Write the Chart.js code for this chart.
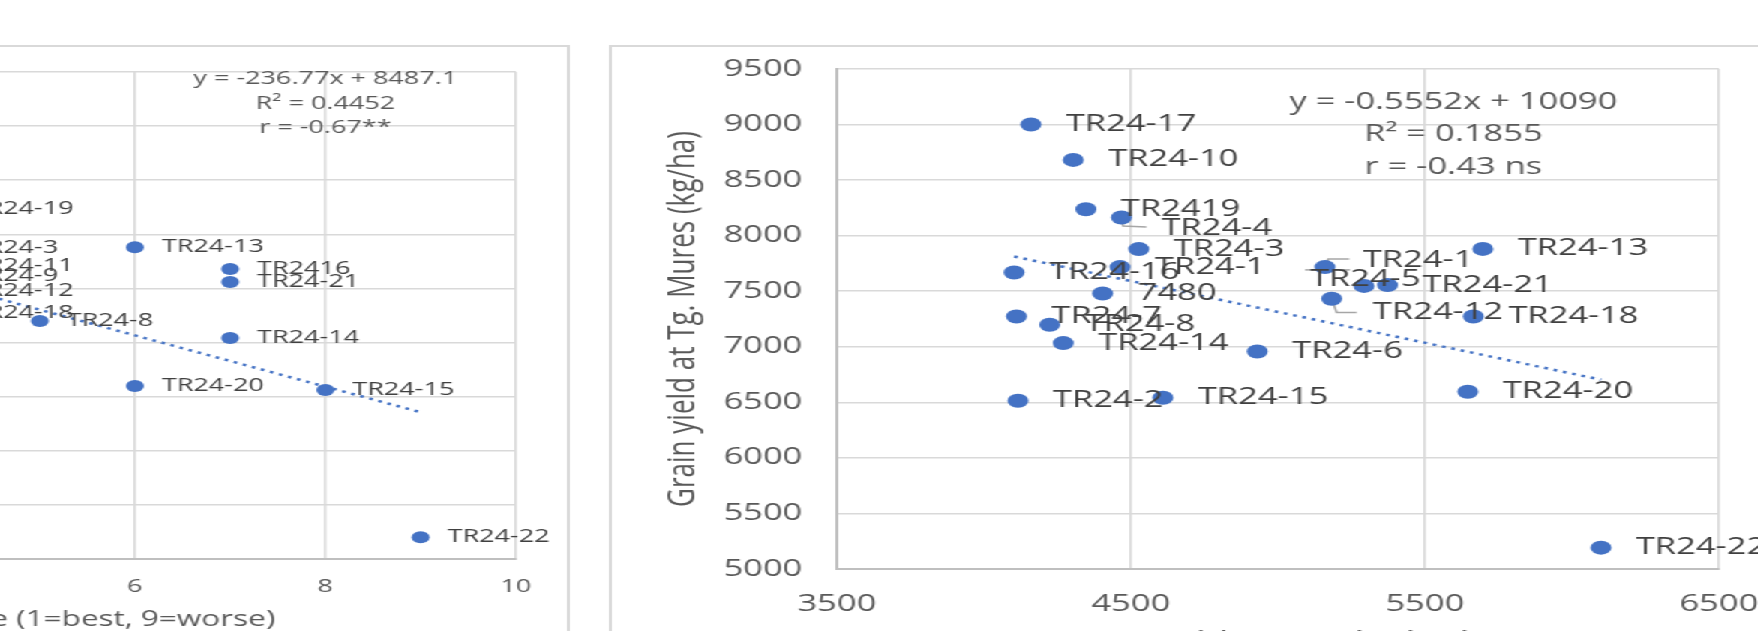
<!DOCTYPE html>
<html>
<head>
<meta charset="utf-8">
<script src="https://cdn.jsdelivr.net/npm/chart.js@4.4.1/dist/chart.umd.min.js"></script>
<style>
  html, body { margin: 0; padding: 0; background: #fff; overflow: hidden; }
  body { width: 1758px; height: 631px; position: relative; }
  /* both panels are drawn narrow and widened as a whole */
  #stage { position: absolute; left: 0; top: 0; width: 1172px; height: 631px; transform: scaleX(1.5); transform-origin: 0 0; }
  .box { position: absolute; border: 2px solid #d9d9d9; background: #fff; }
  #leftBox { left: -400px; top: 45px; width: 776px; height: 640px; }
  #rightBox { left: 405.7px; top: 45px; width: 800px; height: 640px; }
  canvas { display: block; }
</style>
</head>
<body>
<div id="stage">
  <div class="box" id="leftBox"><canvas id="scoreChart" width="776" height="640"></canvas></div>
  <div class="box" id="rightBox"><canvas id="yieldChart" width="800" height="640"></canvas></div>
</div>
<script>
// left panel: score vs. grain yield at Tg. Mures
const scoreNames = ["TR24-19", "TR24-3", "TR24-11", "TR24-9", "TR24-12", "TR24-18", "TR24-8",
  "TR24-13", "TR2416", "TR24-21", "TR24-14", "TR24-20", "TR24-15", "TR24-22"];
const scoreValues = [4, 4, 4, 4, 4, 4, 5, 6, 7, 7, 7, 6, 8, 9];
const scoreYield = [8238, 7879, 7707, 7615, 7476, 7273, 7199, 7881, 7679, 7559, 7042, 6598, 6561, 5202];
const scoreSlope = -236.77;
const scoreIntercept = 8487.1;
const scoreR2 = "0.4452";
const scoreR = "-0.67**";

// right panel: yield at the second site vs. grain yield at Tg. Mures
const yieldNames = ["TR24-17", "TR24-10", "TR2419", "TR24-4", "TR24-3", "TR24-1", "TR24-16", "7480",
  "TR24-7", "TR24-8", "TR24-14", "TR24-2", "TR24-15", "TR24-6", "TR24-1", "TR24-5", "TR24-21",
  "TR24-12", "TR24-18", "TR24-13", "TR24-20", "TR24-22"];
const yieldOther = [4160, 4304, 4347, 4468, 4527, 4463, 4103, 4404, 4111, 4224, 4270, 4116, 4609, 4930,
  5160, 5293, 5373, 5183, 5665, 5697, 5646, 6099];
const yieldMures = [9000, 8682, 8238, 8163, 7879, 7717, 7668, 7480, 7272, 7198, 7033, 6514, 6541, 6958,
  7717, 7548, 7555, 7432, 7272, 7881, 6595, 5192];
const yieldSlope = -0.5552;
const yieldIntercept = 10090;
const yieldR2 = "0.1855";
const yieldR = "-0.43 ns";

// axis ranges
const scoreAxis = [0, 10, 2];
const otherAxis = [3500, 6500, 1000];
const muresAxis = [5000, 9500, 500];

const BLUE = "#4472c4";
const FONT = "'Open Sans', 'Liberation Sans', sans-serif";

// labels that were dragged off their marker, with leader lines
const yieldNudges = {
  3: { dx: 26.7, dy: 11, leader: [[0, 0], [1.1, 8.4], [16.7, 9.4]] },
  14: { dx: 25.3, dy: -7, leader: [[0, 0], [2.2, -8], [16.2, -8]] },
  15: { dx: -36, dy: -6, leader: [[-39.3, -16], [-9.3, -16]] },
  17: { dx: 27.5, dy: 14, leader: [[0, 0], [3.3, 13.7], [16.7, 13.7]] }
};

const pointLabels = {
  id: "pointLabels",
  beforeDatasetsDraw(chart, args, opts) {
    const meta = chart.getDatasetMeta(0);
    const ctx = chart.ctx;
    ctx.save();
    ctx.strokeStyle = "#a6a6a6";
    ctx.lineWidth = 1.5;
    Object.entries(opts.nudges || {}).forEach(([i, n]) => {
      if (!n.leader) return;
      const p = meta.data[i];
      ctx.beginPath();
      n.leader.forEach(([dx, dy], k) => {
        if (k) ctx.lineTo(p.x + dx, p.y + dy);
        else ctx.moveTo(p.x + dx, p.y + dy);
      });
      ctx.stroke();
    });
    ctx.restore();
  },
  afterDatasetsDraw(chart, args, opts) {
    const meta = chart.getDatasetMeta(0);
    const names = chart.data.datasets[0].names;
    const ctx = chart.ctx;
    ctx.save();
    ctx.font = opts.size + "px " + FONT;
    ctx.fillStyle = "#404040";
    ctx.textAlign = "left";
    ctx.textBaseline = "middle";
    names.forEach((t, i) => {
      const p = meta.data[i];
      const n = (opts.nudges || {})[i] || {};
      ctx.fillText(t, p.x + (n.dx ?? opts.dx), p.y + (n.dy ?? 0));
    });
    // regression equation block
    ctx.fillStyle = "#595959";
    ctx.textAlign = "center";
    opts.fitText.forEach((line, k) => ctx.fillText(line, opts.fitX, opts.fitY + k * opts.fitGap));
    ctx.restore();
  }
};

function trend(xs, slope, intercept) {
  const x0 = Math.min(...xs), x1 = Math.max(...xs);
  return [{ x: x0, y: slope * x0 + intercept }, { x: x1, y: slope * x1 + intercept }];
}

const plain = (v) => String(v);

function makeChart(id, cfg) {
  const grid = { color: "#d9d9d9", lineWidth: 1.6, drawTicks: false };
  const border = { color: "#bfbfbf", width: 2 };
  return new Chart(document.getElementById(id), {
    type: "scatter",
    data: {
      datasets: [
        {
          names: cfg.names,
          data: cfg.xs.map((x, i) => ({ x: x, y: cfg.ys[i] })),
          backgroundColor: BLUE,
          borderColor: BLUE,
          borderWidth: 0,
          pointRadius: cfg.radius,
          pointHoverRadius: cfg.radius
        },
        {
          data: trend(cfg.xs, cfg.slope, cfg.intercept),
          showLine: true,
          pointRadius: 0,
          borderColor: BLUE,
          borderWidth: 2.5,
          borderDash: [2.5, 4]
        }
      ]
    },
    options: {
      responsive: false,
      animation: false,
      events: [],
      layout: { padding: cfg.padding },
      plugins: {
        legend: { display: false },
        tooltip: { enabled: false },
        pointLabels: {
          size: cfg.labelSize,
          dx: cfg.labelDx,
          nudges: cfg.nudges,
          fitText: [
            "y = " + cfg.slope + "x + " + cfg.intercept,
            "R\u00b2 = " + cfg.r2,
            "r = " + cfg.r
          ],
          fitX: cfg.fitX,
          fitY: cfg.fitY,
          fitGap: cfg.fitGap
        }
      },
      scales: {
        x: {
          type: "linear",
          min: cfg.xAxis[0], max: cfg.xAxis[1],
          ticks: { stepSize: cfg.xAxis[2], color: "#595959", padding: cfg.xTickPad, callback: plain,
            font: { family: FONT, size: cfg.tickSize } },
          grid: grid,
          border: border,
          title: { display: true, text: cfg.xTitle, color: "#595959",
            font: { family: FONT, size: cfg.titleSize }, padding: { top: 0, bottom: cfg.xTitlePad } },
          afterFit(s) { s.height = 100; s.paddingLeft = 0; s.paddingRight = 0; }
        },
        y: {
          min: muresAxis[0], max: muresAxis[1],
          ticks: { stepSize: muresAxis[2], color: "#595959", padding: cfg.yTickPad, callback: plain,
            font: { family: FONT, size: cfg.tickSize } },
          grid: grid,
          border: border,
          title: { display: true, text: "Grain yield at Tg. Mures (kg/ha)", color: "#595959",
            font: { family: FONT, size: cfg.yTitleSize }, padding: { top: cfg.yTitlePad, bottom: 0 } },
          afterFit(s) { s.width = cfg.yWidth; s.paddingTop = 0; s.paddingBottom = 0; }
        }
      }
    },
    plugins: [pointLabels]
  });
}

makeChart("scoreChart", {
  names: scoreNames, xs: scoreValues, ys: scoreYield,
  slope: scoreSlope, intercept: scoreIntercept, r2: scoreR2, r: scoreR,
  xAxis: scoreAxis, xTitle: "Lodging score (1=best, 9=worse)",
  radius: 6, labelSize: 18, labelDx: 18, nudges: {},
  tickSize: 18, titleSize: 21, yTitleSize: 21, xTickPad: 17, xTitlePad: 26, yTickPad: 18, yTitlePad: 20,
  yWidth: 107, padding: { left: 0, right: 34, top: 25, bottom: 28 },
  fitX: 615, fitY: 32, fitGap: 24.5
});

makeChart("yieldChart", {
  names: yieldNames, xs: yieldOther, ys: yieldMures,
  slope: yieldSlope, intercept: yieldIntercept, r2: yieldR2, r: yieldR,
  xAxis: otherAxis, xTitle: "Grain yield at Turda (kg/ha)",
  radius: 7, labelSize: 23, labelDx: 23.3, nudges: yieldNudges,
  tickSize: 23, titleSize: 25, yTitleSize: 26, xTickPad: 22, xTitlePad: 12.5, yTickPad: 23, yTitlePad: 32,
  yWidth: 150, padding: { left: 0, right: 62, top: 22, bottom: 18 },
  fitX: 561, fitY: 55, fitGap: 32.5
});
</script>
</body>
</html>
